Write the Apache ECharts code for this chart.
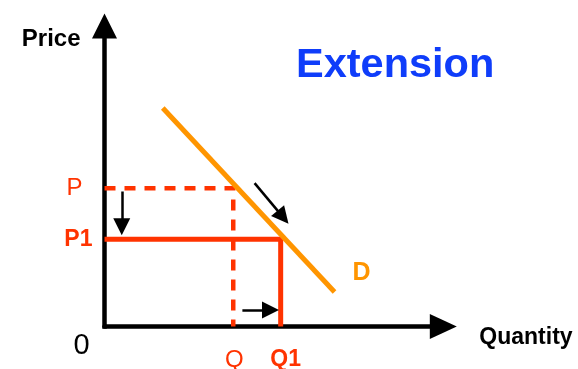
<!DOCTYPE html>
<html lang="en">
<head>
    <meta charset="UTF-8">
    <title>Extension</title>
    <script src="https://cdn.jsdelivr.net/npm/echarts@6.0.0/dist/echarts.min.js"></script>
    <style>
        html, body { margin: 0; padding: 0; background: #fff; }
        #chart { width: 578px; height: 369px; }
    </style>
</head>
<body>
    <div id="chart"></div>
    <script>
        // quantity / price levels (axis units 0..100)
        var qLabels = ['Q', 'Q1'];
        var qValues = [38, 52];
        var pLabels = ['P', 'P1'];
        var pValues = [46, 29];
        // demand curve end points
        var demandQ = [17.2, 67.9];
        var demandP = [72.7, 11.5];
        // little movement arrows [from, to]
        var arrowPrice = [[5.1, 44.9], [5.1, 33.2]];
        var arrowQty = [[40.7, 5.5], [49.0, 5.5]];
        var arrowCurve = [[44.3, 47.7], [52.7, 36.4]];

        var RED = '#ff3300';
        var ORANGE = '#ff9500';
        var FONT = 'Liberation Sans, Arial, sans-serif';

        var chart = echarts.init(document.getElementById('chart'));

        var labelPts = [];
        pLabels.forEach(function (t, i) {
            labelPts.push({
                value: [0, pValues[i]],
                label: {
                    formatter: t, position: 'left', distance: i === 0 ? 22 : 12,
                    color: RED, fontSize: i === 0 ? 24 : 23, fontWeight: i === 0 ? 'normal' : 'bold'
                }
            });
        });
        qLabels.forEach(function (t, i) {
            labelPts.push({
                value: [qValues[i], 0],
                label: {
                    formatter: t, position: 'bottom', distance: 22, offset: [i === 0 ? 1 : 5, 0],
                    color: RED, fontSize: i === 0 ? 24 : 23, fontWeight: i === 0 ? 'normal' : 'bold'
                }
            });
        });
        labelPts.push({
            value: [0, 0],
            label: { formatter: '0', position: 'inside', offset: [-23, 19], color: '#000', fontSize: 29 }
        });

        function arrow(coords) {
            return {
                type: 'lines',
                coordinateSystem: 'cartesian2d',
                symbol: ['none', 'triangle'],
                symbolSize: 17,
                lineStyle: { color: '#000', width: 2.5, opacity: 1 },
                z: 5,
                data: [{ coords: coords }]
            };
        }

        chart.setOption({
            animation: false,
            textStyle: { fontFamily: FONT },
            title: {
                text: 'Extension',
                left: 296, top: 45, padding: 0,
                textStyle: { color: '#0f3dfa', fontSize: 41.5, fontWeight: 'bold', fontFamily: FONT }
            },
            grid: { left: 104.5, top: 26, right: 134.7, bottom: 42.5 },
            xAxis: {
                type: 'value', min: 0, max: 100,
                name: 'Quantity', nameLocation: 'end', nameGap: 36,
                nameTextStyle: {
                    color: '#000', fontSize: 23, fontWeight: 'bold',
                    align: 'left', verticalAlign: 'top', lineHeight: 22
                },
                axisLine: {
                    show: true, symbol: ['none', 'triangle'], symbolSize: [25, 27],
                    lineStyle: { color: '#000', width: 4.5 }
                },
                axisTick: { show: false }, axisLabel: { show: false }, splitLine: { show: false }
            },
            yAxis: {
                type: 'value', min: 0, max: 100,
                name: 'Price', nameLocation: 'end', nameGap: -13,
                nameTextStyle: {
                    color: '#000', fontSize: 24, fontWeight: 'bold',
                    align: 'right', verticalAlign: 'middle', padding: [0, 24, 0, 0]
                },
                axisLine: {
                    show: true, symbol: ['none', 'triangle'], symbolSize: [25, 25],
                    lineStyle: { color: '#000', width: 4.5, cap: 'square' }
                },
                axisTick: { show: false }, axisLabel: { show: false }, splitLine: { show: false }
            },
            series: [
                {
                    name: 'old',
                    type: 'line',
                    data: [[0, pValues[0]], [qValues[0], pValues[0]], [qValues[0], 0]],
                    symbol: 'none',
                    lineStyle: { color: RED, width: 4.5, type: [11, 9] },
                    z: 2
                },
                {
                    name: 'new',
                    type: 'line',
                    data: [[0, pValues[1]], [qValues[1], pValues[1]], [qValues[1], 0]],
                    symbol: 'none',
                    lineStyle: { color: RED, width: 5 },
                    z: 2
                },
                {
                    name: 'demand',
                    type: 'line',
                    data: [
                        [demandQ[0], demandP[0]],
                        {
                            value: [demandQ[1], demandP[1]],
                            label: {
                                show: true, formatter: 'D', position: 'right', distance: 18, offset: [0, -19],
                                color: ORANGE, fontSize: 25, fontWeight: 'bold'
                            }
                        }
                    ],
                    symbol: 'circle', symbolSize: 0, showSymbol: true,
                    lineStyle: { color: ORANGE, width: 5 },
                    itemStyle: { color: ORANGE },
                    z: 3
                },
                arrow(arrowPrice),
                arrow(arrowQty),
                arrow(arrowCurve),
                {
                    name: 'labels',
                    type: 'scatter',
                    symbolSize: 0,
                    itemStyle: { opacity: 1 },
                    label: { show: true },
                    data: labelPts,
                    z: 6
                }
            ]
        });
    </script>
</body>
</html>
